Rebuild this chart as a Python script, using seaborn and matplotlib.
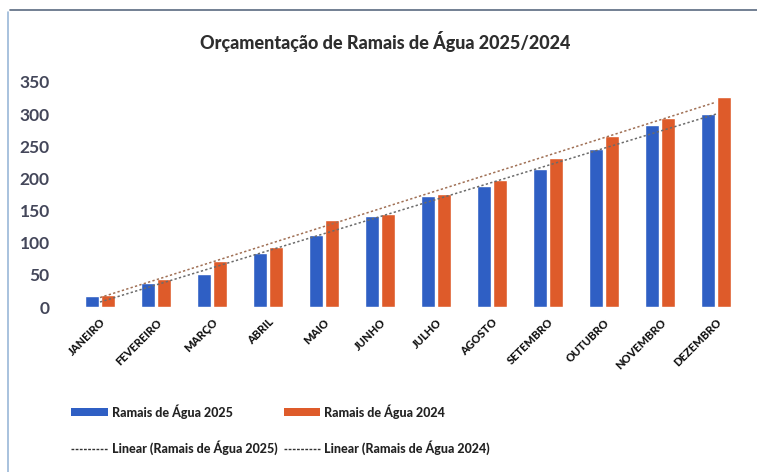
import numpy as np
import pandas as pd
import matplotlib
matplotlib.use("Agg")
import matplotlib.pyplot as plt
from matplotlib.lines import Line2D
from matplotlib.patches import Patch
import seaborn as sns

months = ["JANEIRO", "FEVEREIRO", "MARÇO", "ABRIL", "MAIO", "JUNHO",
          "JULHO", "AGOSTO", "SETEMBRO", "OUTUBRO", "NOVEMBRO", "DEZEMBRO"]
ramais_2025 = [17, 37, 51, 84, 112, 142, 173, 188, 214, 246, 283, 300]
ramais_2024 = [19, 43, 72, 94, 135, 145, 176, 198, 232, 266, 294, 326]
series_names = ["Ramais de Água 2025", "Ramais de Água 2024"]
yticks = [0, 50, 100, 150, 200, 250, 300, 350]
title = "Orçamentação de Ramais de Água 2025/2024"

blue = "#2F5FC4"
orange = "#DE5B2A"

sns.set_theme(style="white")
plt.rcParams["font.family"] = ["Lato", "DejaVu Sans"]

df = pd.DataFrame({
    "Mês": months * 2,
    "Valor": ramais_2025 + ramais_2024,
    "Série": [series_names[0]] * 12 + [series_names[1]] * 12,
})

fig = plt.figure(figsize=(7.57, 4.72), dpi=100)
ax = fig.add_axes([72 / 757, 1 - 307 / 472, (744 - 72) / 757, (307 - 82) / 472])

sns.barplot(data=df, x="Mês", y="Valor", hue="Série", order=months,
            hue_order=series_names, palette=[blue, orange],
            width=0.55, gap=0.1, ax=ax, legend=False, saturation=1)

xs = np.arange(len(months))
for vals, c in [(ramais_2025, "#6b6b6b"), (ramais_2024, "#a07055")]:
    k, b = np.polyfit(xs, vals, 1)
    ax.plot(xs, k * xs + b, linestyle=(0, (1.5, 1.5)), color=c, lw=1.1)

ax.set_xlim(-0.5, 11.5)
ax.set_ylim(0, 350)
ax.set_yticks(yticks)
ax.set_yticklabels([str(v) for v in yticks], fontsize=12.5, fontweight="bold",
                   color="#44475a")
ax.tick_params(axis="y", length=0, pad=16)
ax.tick_params(axis="x", length=0, pad=7)
ax.set_xticks(xs)
ax.set_xticklabels(months, rotation=45, ha="right", rotation_mode="anchor",
                   fontsize=8, fontweight="black", color="#111111")
ax.set_xlabel("")
ax.set_ylabel("")
for s in ax.spines.values():
    s.set_visible(False)

fig.text(385 / 757, 1 - 42 / 472, title, ha="center", va="center",
         fontsize=13, fontweight="black", color="#2e2e2e")

handles = [
    Patch(facecolor=blue, edgecolor="none"),
    Line2D([0], [0], color="#333333", lw=1.0, linestyle=(0, (2, 1))),
    Patch(facecolor=orange, edgecolor="none"),
    Line2D([0], [0], color="#333333", lw=1.0, linestyle=(0, (2, 1))),
]
labels = [series_names[0], "Linear (Ramais de Água 2025)",
          series_names[1], "Linear (Ramais de Água 2024)"]
leg = fig.legend(handles, labels, ncol=2, loc="upper left",
                 bbox_to_anchor=(60 / 757, 1 - 393 / 472), frameon=False,
                 fontsize=9, handlelength=2.9, handleheight=0.6,
                 handletextpad=0.35, columnspacing=0.5, labelspacing=1.75)
for t in leg.get_texts():
    t.set_fontweight("black")
    t.set_color("#222222")

fig.add_artist(Line2D([10 / 757, 1], [1 - 10 / 472, 1 - 10 / 472],
                      color="#5a6a80", lw=1.2, transform=fig.transFigure))
fig.add_artist(Line2D([8 / 757, 8 / 757], [0, 1 - 12 / 472],
                      color="#9ab8d8", lw=1.2, transform=fig.transFigure))

fig.savefig("out.png", dpi=100)
